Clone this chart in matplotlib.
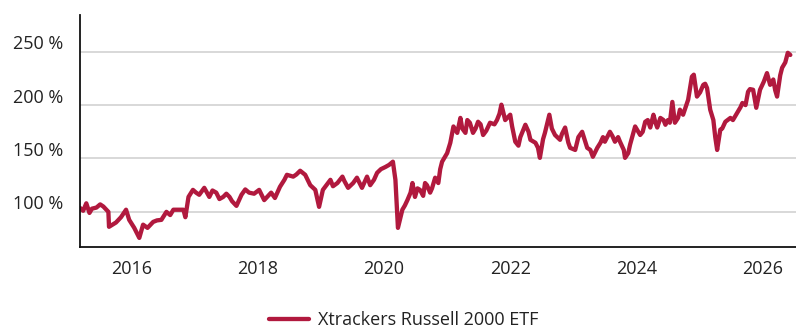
import matplotlib
matplotlib.use("Agg")
from matplotlib import pyplot as plt
from matplotlib import transforms

plt.rcParams['font.family'] = ['Open Sans', 'DejaVu Sans']

# fund performance, indexed, dates as decimal years
years = [
    2015.18, 2015.23, 2015.28, 2015.33, 2015.37, 2015.44, 2015.50, 2015.55, 2015.63, 2015.64,
    2015.75, 2015.83, 2015.91, 2015.96, 2016.04, 2016.12, 2016.18, 2016.25, 2016.34, 2016.40,
    2016.47, 2016.55, 2016.61, 2016.66, 2016.82, 2016.85, 2016.90, 2016.97, 2017.02, 2017.07,
    2017.15, 2017.23, 2017.28, 2017.34, 2017.39, 2017.45, 2017.50, 2017.55, 2017.59, 2017.66,
    2017.74, 2017.80, 2017.86, 2017.94, 2018.02, 2018.10, 2018.21, 2018.27, 2018.35, 2018.42,
    2018.46, 2018.56, 2018.61, 2018.67, 2018.75, 2018.83, 2018.91, 2018.97, 2019.03, 2019.15,
    2019.19, 2019.26, 2019.34, 2019.37, 2019.43, 2019.51, 2019.57, 2019.65, 2019.73, 2019.78,
    2019.84, 2019.89, 2019.95, 2020.02, 2020.08, 2020.14, 2020.18, 2020.22, 2020.29, 2020.33,
    2020.37, 2020.42, 2020.45, 2020.49, 2020.53, 2020.57, 2020.62, 2020.65, 2020.68, 2020.73,
    2020.76, 2020.81, 2020.86, 2020.89, 2020.92, 2021.00, 2021.05, 2021.10, 2021.16, 2021.21,
    2021.24, 2021.29, 2021.32, 2021.36, 2021.41, 2021.45, 2021.49, 2021.53, 2021.57, 2021.62,
    2021.68, 2021.75, 2021.79, 2021.83, 2021.86, 2021.92, 2022.00, 2022.03, 2022.08, 2022.13,
    2022.16, 2022.24, 2022.29, 2022.32, 2022.40, 2022.44, 2022.47, 2022.52, 2022.55, 2022.62,
    2022.66, 2022.71, 2022.79, 2022.82, 2022.87, 2022.92, 2022.95, 2023.03, 2023.08, 2023.14,
    2023.22, 2023.27, 2023.31, 2023.38, 2023.43, 2023.47, 2023.50, 2023.58, 2023.62, 2023.66,
    2023.71, 2023.74, 2023.80, 2023.82, 2023.87, 2023.90, 2023.98, 2024.06, 2024.10, 2024.14,
    2024.18, 2024.22, 2024.27, 2024.30, 2024.33, 2024.38, 2024.43, 2024.46, 2024.50, 2024.53,
    2024.57, 2024.61, 2024.66, 2024.69, 2024.74, 2024.78, 2024.82, 2024.88, 2024.91, 2024.96,
    2025.01, 2025.06, 2025.09, 2025.12, 2025.17, 2025.22, 2025.25, 2025.28, 2025.33, 2025.36,
    2025.41, 2025.49, 2025.53, 2025.60, 2025.65, 2025.68, 2025.73, 2025.77, 2025.80, 2025.85,
    2025.90, 2025.96, 2026.02, 2026.07, 2026.12, 2026.17, 2026.20, 2026.23, 2026.28, 2026.31,
    2026.36, 2026.40, 2026.44,
]
values = [
    103.7, 101.0, 108.0, 99.0, 103.0, 104.0, 107.0, 105.0, 100.0, 86.0,
    90.0, 95.0, 102.0, 92.5, 85.0, 75.6, 88.0, 85.0, 90.6, 92.0,
    92.5, 100.0, 97.0, 102.0, 102.0, 95.0, 114.0, 120.6, 118.0, 116.0,
    122.5, 114.0, 120.0, 118.0, 112.0, 114.0, 117.0, 114.0, 110.0, 105.6,
    116.0, 121.0, 118.0, 117.0, 120.6, 111.0, 118.0, 113.0, 123.5, 130.0,
    134.7, 133.0, 135.0, 138.5, 134.7, 125.0, 120.6, 104.7, 120.6, 130.0,
    124.0, 127.0, 133.0, 129.0, 122.5, 127.0, 132.0, 122.5, 133.0, 125.0,
    130.0, 136.6, 140.0, 142.0, 144.0, 147.0, 130.0, 85.0, 102.0, 106.0,
    111.0, 118.0, 127.0, 114.0, 122.0, 120.6, 115.0, 127.0, 125.0, 118.0,
    122.0, 132.0, 127.0, 140.0, 147.0, 155.0, 164.7, 180.0, 174.0, 188.0,
    178.0, 174.0, 186.0, 183.5, 174.0, 178.0, 184.4, 182.0, 172.0, 176.0,
    183.5, 182.0, 186.0, 192.0, 200.4, 186.0, 191.0, 180.0, 165.7, 162.0,
    170.0, 181.6, 175.0, 167.5, 164.7, 160.0, 150.6, 168.0, 174.0, 191.0,
    178.0, 172.0, 167.5, 173.0, 179.0, 165.0, 160.0, 158.0, 170.0, 175.0,
    160.0, 158.0, 151.6, 160.0, 164.7, 170.0, 165.7, 175.0, 171.0, 165.7,
    170.0, 165.7, 158.0, 150.6, 155.0, 163.0, 180.0, 172.0, 175.0, 184.4,
    186.0, 179.0, 191.0, 184.0, 179.0, 188.0, 186.0, 181.6, 186.0, 183.5,
    203.0, 183.5, 188.0, 195.7, 191.0, 198.0, 205.0, 226.7, 228.5, 208.0,
    212.0, 219.0, 220.0, 216.0, 195.7, 186.0, 170.0, 158.0, 177.0, 178.0,
    184.4, 188.0, 186.0, 193.0, 198.0, 202.0, 200.0, 212.5, 215.0, 214.4,
    197.5, 214.4, 222.0, 230.0, 219.0, 224.0, 214.0, 208.0, 228.0, 235.0,
    240.0, 249.0, 247.0,
]

y_ticks = [100, 150, 200, 250]
y_labels = ["100 %", "150 %", "200 %", "250 %"]
x_ticks = [2016, 2018, 2020, 2022, 2024, 2026]
x_labels = ["2016", "2018", "2020", "2022", "2024", "2026"]

line_color = "#b1193e"
text_color = "#222222"

fig = plt.figure(figsize=(7.96, 3.29), dpi=100)
ax = fig.add_axes([0.1005, 0.249, 0.8995, 0.705])

ax.plot(years, values, color=line_color, linewidth=3.1, solid_joinstyle="round",
        solid_capstyle="round", label="Xtrackers Russell 2000 ETF")

ax.set_xlim(2015.18, 2026.53)
ax.set_ylim(67, 284.3)

ax.set_yticks(y_ticks)
ax.set_yticklabels(y_labels)
ax.set_xticks(x_ticks)
ax.set_xticklabels(x_labels)

ax.grid(axis="y", color="#d2d2d2", linewidth=1.2)
ax.set_axisbelow(True)

for side in ["top", "right"]:
    ax.spines[side].set_visible(False)
for side in ["left", "bottom"]:
    ax.spines[side].set_color("#111111")
    ax.spines[side].set_linewidth(1.3)

ax.tick_params(axis="both", length=0, labelsize=13, labelcolor=text_color)
ax.tick_params(axis="y", pad=12)
ax.tick_params(axis="x", pad=9)

# lift the percent labels so they sit above their grid lines
shift = transforms.ScaledTranslation(0, 9.5 / 100, fig.dpi_scale_trans)
for lbl in ax.get_yticklabels():
    lbl.set_transform(lbl.get_transform() + shift)

fig.legend(loc="lower center", bbox_to_anchor=(0.507, -0.045), frameon=False,
           fontsize=13, handlelength=2.2, handletextpad=0.5, borderpad=0.3,
           labelcolor=text_color)

fig.savefig("out.png", dpi=100)
